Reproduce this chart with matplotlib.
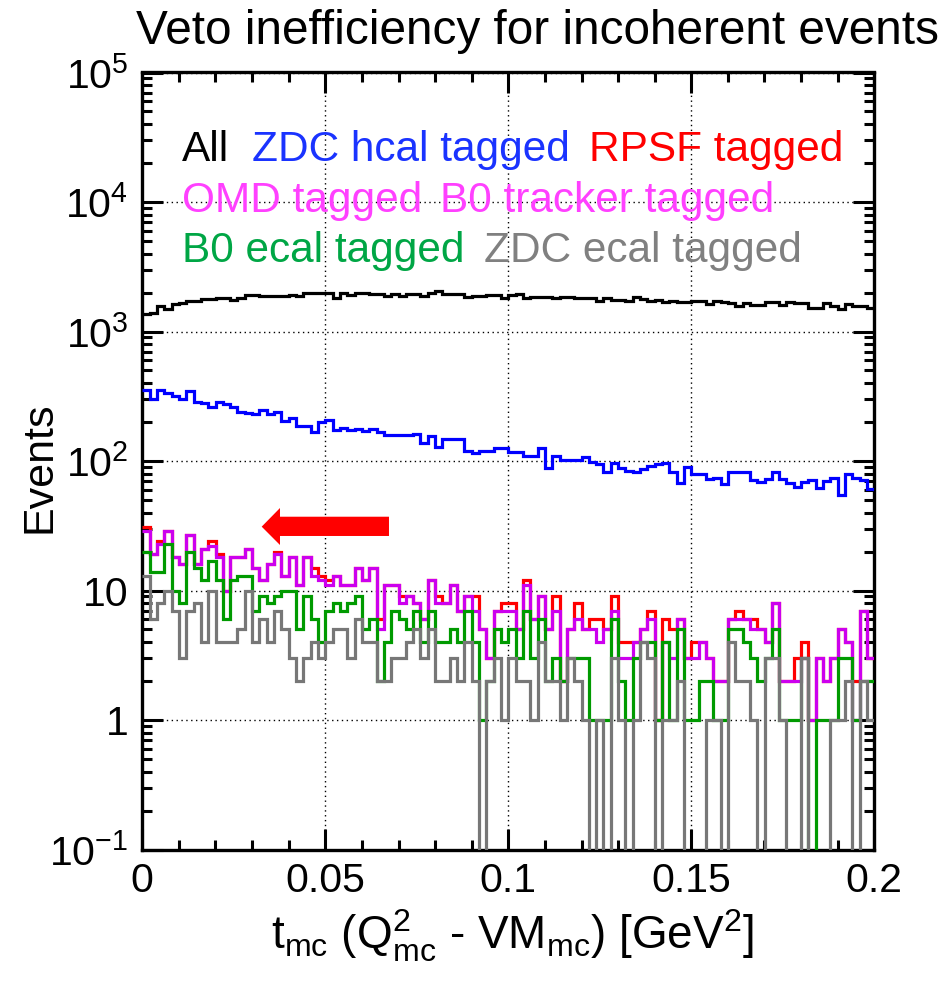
import numpy as np
import matplotlib
matplotlib.use('Agg')
import matplotlib.pyplot as plt
from matplotlib.patches import Polygon
from matplotlib.ticker import FixedLocator, MultipleLocator, NullFormatter, LogLocator

plt.rcParams['font.family'] = ['Liberation Sans', 'DejaVu Sans']
plt.rcParams['mathtext.fontset'] = 'custom'
plt.rcParams['mathtext.rm'] = 'Liberation Sans'
plt.rcParams['mathtext.it'] = 'Liberation Sans:italic'
plt.rcParams['mathtext.bf'] = 'Liberation Sans:bold'

# ---------------- data ----------------
n_bins = 100
t_min, t_max = 0.0, 0.2

all_events = [1360, 1400, 1560, 1490, 1620, 1660, 1730, 1730, 1780, 1780,
              1830, 1830, 1760, 1830, 1920, 1920, 1870, 1870, 1870, 1870,
              1920, 1870, 1970, 1970, 2000, 1970, 1830, 2000, 1910, 1980,
              1980, 1940, 1940, 1890, 1940, 1890, 1940, 1940, 1890, 1980,
              2040, 1940, 1960, 1960, 1860, 1890, 1890, 1910, 1910, 1800,
              1910, 1940, 1810, 1840, 1860, 1860, 1820, 1850, 1840, 1810,
              1830, 1830, 1710, 1800, 1760, 1760, 1730, 1860, 1780, 1730,
              1750, 1680, 1710, 1680, 1680, 1710, 1730, 1630, 1730, 1700,
              1660, 1560, 1650, 1610, 1610, 1680, 1680, 1600, 1680, 1650,
              1650, 1520, 1520, 1660, 1580, 1490, 1630, 1580, 1580, 1520]

zdc_hcal = [354, 303, 354, 334, 318, 300, 348, 286, 278, 262,
            286, 274, 262, 241, 234, 229, 248, 229, 237, 204,
            216, 186, 186, 167, 199, 208, 173, 181, 173, 178,
            169, 176, 166, 159, 159, 159, 159, 163, 138, 156,
            128, 147, 147, 147, 119, 115, 119, 119, 125, 125,
            117, 117, 109, 109, 125, 88, 110, 101, 101, 101,
            107, 98, 94, 82, 97, 88, 84, 82, 87, 92,
            94, 97, 82, 68, 90, 79, 79, 73, 74, 67,
            82, 82, 82, 71, 69, 73, 82, 73, 68, 63,
            69, 71, 62, 70, 74, 55, 79, 74, 71, 61]

rpsf = [31, 19, 24, 29, 18, 16, 27, 16, 21, 24, 19, 10, 18, 18, 21, 15, 12,
        16, 20, 13, 18, 11, 18, 15, 13, 12, 13, 11, 11, 15, 12, 15, 6,
        11, 11, 9, 9, 8, 6, 12, 9, 8, 11, 7, 9, 9, 5, 3, 7, 8,
        8, 5, 12, 6, 9, 5, 9, 2, 5, 8, 5, 6, 6, 5, 9, 4,
        4, 4, 5, 7, 1, 6, 5, 6, 3, 4, 4, 3, 2, 2, 6, 7, 6,
        6, 5, 4, 8, 2, 2, 3, 4, 1, 3, 2, 3, 5, 4, 2, 7, 3]

omd_b0trk = [29, 19, 23, 29, 18, 16, 27, 16, 21, 22, 18, 10, 18, 18, 21, 15, 12,
             16, 19, 13, 18, 11, 18, 13, 12, 11, 13, 11, 11, 15, 12, 15, 5,
             11, 11, 8, 9, 8, 6, 12, 8, 8, 11, 7, 9, 7, 5, 3, 7, 7,
             7, 5, 11, 6, 9, 5, 7, 2, 5, 6, 5, 5, 4, 5, 7, 3,
             3, 4, 5, 6, 1, 4, 3, 6, 3, 3, 4, 3, 2, 2, 6, 6, 6,
             5, 5, 4, 8, 2, 2, 2, 3, 1, 3, 2, 3, 5, 4, 1, 7, 3]

b0_ecal = [20, 14, 14, 23, 10, 8, 20, 15, 12, 17, 12, 6, 12, 13, 13, 7, 9,
           8, 9, 10, 10, 5, 9, 6, 4, 7, 8, 7, 8, 9, 5, 6, 2,
           4, 7, 6, 5, 7, 4, 7, 4, 4, 5, 4, 7, 4, 1, 2, 5, 4,
           5, 3, 7, 3, 6, 2, 3, 2, 3, 3, 3, 1, 1, 1, 6, 2,
           1, 3, 4, 4, 1, 4, 1, 5, 1, 1, 2, 2, 1, 1, 5, 5, 4,
           3, 2, 3, 5, 1, 1, 1, 3, 0, 1, 1, 1, 3, 3, 1, 2, 2]

zdc_ecal = [13, 6, 8, 10, 7, 3, 7, 8, 4, 10, 4, 4, 4, 5, 10, 4, 6,
            4, 7, 5, 3, 2, 3, 4, 3, 4, 5, 5, 3, 6, 4, 4, 2,
            2, 3, 3, 4, 5, 3, 5, 2, 2, 3, 2, 4, 2, 0, 2, 3, 1,
            3, 2, 2, 1, 4, 2, 2, 1, 3, 2, 1, 0, 1, 0, 3, 1,
            0, 1, 4, 3, 0, 1, 1, 2, 0, 0, 0, 1, 1, 0, 4, 2, 2,
            1, 0, 3, 3, 1, 0, 0, 3, 0, 0, 0, 1, 1, 2, 0, 2, 1]

x_ticks = [0, 0.05, 0.1, 0.15, 0.2]
x_tick_labels = ['0', '0.05', '0.1', '0.15', '0.2']
y_ticks = [0.1, 1, 10, 100, 1e3, 1e4, 1e5]
y_tick_labels = ['10$^{-1}$', '1', '10', '10$^{2}$', '10$^{3}$', '10$^{4}$', '10$^{5}$']

# ---------------- figure ----------------
W, H = 945, 984
fig = plt.figure(figsize=(W / 100, H / 100), dpi=100)
ax = fig.add_axes([142.3 / W, 134.5 / H, 732.0 / W, 777.0 / H])

edges = np.linspace(t_min, t_max, n_bins + 1)

series = [
    (all_events, 'black'),
    (zdc_hcal, '#0000ff'),
    (rpsf, '#ff0000'),
    (omd_b0trk, '#cc00ee'),
    (b0_ecal, '#009a00'),
    (zdc_ecal, '#777777'),
]
for vals, col in series:
    v = np.asarray(vals, dtype=float)
    v = np.where(v > 0, v, 1e-3)
    ax.stairs(v, edges, baseline=None, color=col, lw=2.3, zorder=3)

ax.set_yscale('log')
ax.set_xlim(t_min, t_max)
ax.set_ylim(0.1, 1e5)

ax.xaxis.set_major_locator(FixedLocator(x_ticks))
ax.set_xticklabels(x_tick_labels)
ax.xaxis.set_minor_locator(MultipleLocator(0.01))
ax.yaxis.set_major_locator(FixedLocator(y_ticks))
ax.set_yticklabels(y_tick_labels)
ax.yaxis.set_minor_locator(LogLocator(base=10, subs=np.arange(2, 10), numticks=30))
ax.yaxis.set_minor_formatter(NullFormatter())

ax.tick_params(which='both', direction='in', top=True, right=True, width=2.2,
               labelsize=29.5, colors='black')
ax.tick_params(which='major', length=15)
ax.tick_params(which='minor', length=7.5)
ax.tick_params(axis='x', which='major', pad=9)
ax.tick_params(axis='y', which='major', pad=10)

for s in ax.spines.values():
    s.set_linewidth(2.4)

ax.grid(True, which='major', color='black', ls=(0, (1, 2.5)), lw=1.0, zorder=1)

# red arrow (annotation)
arrow = Polygon([(0.1631, 0.4155), (0.1881, 0.4395), (0.1881, 0.4283),
                 (0.3370, 0.4283), (0.3370, 0.4035), (0.1881, 0.4035),
                 (0.1881, 0.3919)], closed=True, transform=ax.transAxes,
                facecolor='#ff0000', edgecolor='none', zorder=5)
ax.add_patch(arrow)

# titles / labels
fig.text(537.5 / W, 1 - 44 / H, 'Veto inefficiency for incoherent events',
         ha='center', va='baseline', fontsize=34.4)
fig.text(40 / W, 1 - 467 / H, 'Events', rotation=90, ha='center', va='center',
         fontsize=31)
fig.text(512 / W, 1 - 950 / H,
         r't$_{\mathrm{mc}}$ (Q$^{2}_{\mathrm{mc}}$ - VM$_{\mathrm{mc}}$) [GeV$^{2}$]',
         ha='center', va='baseline', fontsize=33)

legend_pieces = [
    ('All', 182, 161, 'black'),
    ('ZDC hcal tagged', 252, 161, '#1a33ff'),
    ('RPSF tagged', 589, 161, '#ff0000'),
    ('OMD tagged', 182, 212, '#ff40ff'),
    ('B0 tracker tagged', 440, 212, '#ff40ff'),
    ('B0 ecal tagged', 182, 262, '#00a645'),
    ('ZDC ecal tagged', 484, 262, '#808080'),
]
for txt, px, py, col in legend_pieces:
    fig.text(px / W, 1 - py / H, txt, ha='left', va='baseline', fontsize=30.5,
             color=col)

fig.savefig('out.png', dpi=100)
